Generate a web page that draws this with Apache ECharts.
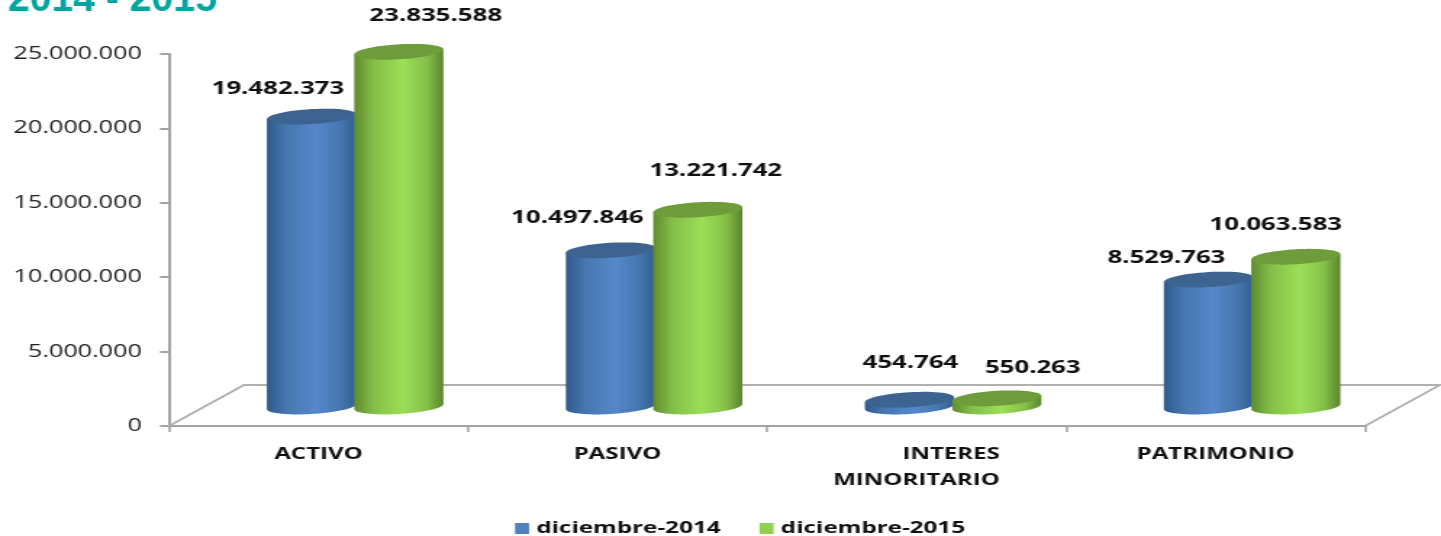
<!DOCTYPE html>
<html>
<head>
<meta charset="utf-8">
<script src="https://cdn.jsdelivr.net/npm/echarts@6/dist/echarts.min.js"></script>
<style>
html,body{margin:0;padding:0;background:#fff;overflow:hidden;width:1441px;height:536px}
#c{position:absolute;left:0;top:0;width:994px;height:536px;transform-origin:0 0;transform:scaleX(1.4497)}
</style>
</head>
<body>
<div id="c"></div>
<script>
// data
const categories = ['ACTIVO', 'PASIVO', 'INTERES\nMINORITARIO', 'PATRIMONIO'];
const seriesNames = ['diciembre-2014', 'diciembre-2015'];
const values2014 = [19482373, 10497846, 454764, 8529763];
const values2015 = [23835588, 13221742, 550263, 10063583];
const titleText = '2014 - 2015';

// layout (the picture is stretched horizontally by K)
const K = 1441 / 994;
const X = p => p / K;
const DEPTH_X = X(75), DEPTH_Y = 41, BASE_LIFT = 19.5, RY = 7.5, TILT = 2.5;
const nudge2014 = [[-33.5, -28], [-33, -32], [1, -37], [-42, -22]];
const nudge2015 = [[37, -36], [18, -39], [36, -30], [-20, -32]];

const dotted = v => String(v).replace(/\B(?=(\d{3})+(?!\d))/g, '.');

function ellipsePts(cx, cy, rx, from, to, n) {
  const pts = [];
  for (let i = 0; i <= n; i++) {
    const t = from + (to - from) * i / n;
    pts.push([cx + rx * Math.cos(t), cy + RY * Math.sin(t) - TILT * Math.cos(t)]);
  }
  return pts;
}

function cylinder(shift, cols, topCol, nudge) {
  return function (params, api) {
    const i = api.value(0), v = api.value(1);
    const band = api.size([1, 0])[0];
    const base = api.coord([i, 0]);
    const top = api.coord([i, v]);
    const cx = base[0] + shift * band;
    const rx = band * 0.149;
    const yb = base[1] - BASE_LIFT, yt = top[1] - BASE_LIFT;
    const body = ellipsePts(cx, yb, rx, 0, Math.PI, 40).concat(
      [[cx - rx, yt + TILT], [cx + rx, yt - TILT]]);
    const n = nudge[i];
    return {
      type: 'group',
      children: [
        { type: 'polygon', shape: { points: body }, style: {
            fill: new echarts.graphic.LinearGradient(0, 0, 1, 0, [
              { offset: 0, color: cols[0] }, { offset: 0.22, color: cols[1] },
              { offset: 0.55, color: cols[2] }, { offset: 0.82, color: cols[1] }, { offset: 1, color: cols[3] }
            ]) } },
        { type: 'polygon', shape: { points: ellipsePts(cx, yt, rx, 0, Math.PI * 2, 60) }, style: { fill: topCol } },
        { type: 'text', style: {
            text: dotted(v), x: cx + X(n[0]), y: yt + n[1], align: 'center', verticalAlign: 'middle',
            fill: '#111', font: 'bold 17.8px "Open Sans"' } }
      ]
    };
  };
}

function floor(params, api) {
  const band = api.size([1, 0])[0];
  const o = api.coord([0, 0]);
  const l = o[0] - band / 2, r = l + band * 4, y = o[1];
  return {
    type: 'polyline',
    shape: { points: [[l, y], [l + DEPTH_X, y - DEPTH_Y], [r + DEPTH_X, y - DEPTH_Y], [r, y]] },
    style: { stroke: '#b0b0b0', lineWidth: 1.8, fill: null },
    silent: true
  };
}

const chart = echarts.init(document.getElementById('c'));
chart.setOption({
  animation: false,
  backgroundColor: '#fff',
  graphic: [{ type: 'text', x: X(8), y: 20, scaleY: 1.45, silent: true,
    style: { text: titleText, verticalAlign: 'bottom', fill: '#00a5a0', font: 'bold 27px "Liberation Sans"' } }],
  legend: { data: seriesNames, left: X(515), top: 520, padding: 0, icon: 'rect', itemWidth: X(14), itemHeight: 11, itemGap: X(39),
    itemStyle: { borderWidth: 0 },
    textStyle: { color: '#111', fontFamily: '"Open Sans"', fontWeight: 'bold', fontSize: 16.7, padding: [0, 0, 0, 0] } },
  grid: { left: X(169), width: X(1196), top: 54, height: 372, containLabel: false },
  xAxis: {
    type: 'category', data: categories,
    axisLine: { lineStyle: { color: '#a3a3a3', width: 2 } },
    axisTick: { show: true, alignWithLabel: false, length: 6, lineStyle: { color: '#a3a3a3', width: 1.6 } },
    axisLabel: { interval: 0, margin: 15, hideOverlap: false,
      formatter: s => s.split('\n').map(t => `{${s.includes('\n') ? 'r' : 'c'}|${t}}`).join('\n'),
      rich: {
        r: { align: 'right', color: '#111', fontFamily: '"Open Sans"', fontWeight: 'bold', fontSize: 16.6, lineHeight: 26 },
        c: { align: 'center', color: '#111', fontFamily: '"Open Sans"', fontWeight: 'bold', fontSize: 16.6, lineHeight: 26 }
      } }
  },
  yAxis: {
    type: 'value', min: 0, max: 25000000, interval: 5000000,
    splitLine: { show: false },
    axisLine: { show: true, lineStyle: { color: '#a3a3a3', width: 2 } },
    axisTick: { show: true, length: X(9), lineStyle: { color: '#a3a3a3', width: 2 } },
    axisLabel: { margin: X(27), color: '#222', fontFamily: '"Open Sans"', fontSize: 17.4, padding: [6, 0, 0, 0], formatter: dotted }
  },
  series: [
    { type: 'custom', name: 'floor', coordinateSystem: 'cartesian2d', data: [[0, 0]], renderItem: floor, silent: true, z: 1, clip: false },
    { type: 'custom', name: seriesNames[0], coordinateSystem: 'cartesian2d', z: 2, clip: false,
      itemStyle: { color: '#4f81bd' }, encode: { x: 0, y: 1 },
      data: values2014.map((v, i) => [i, v]),
      renderItem: cylinder(-0.0237, ['#2f5a8c', '#4777b0', '#5588cc', '#34608f'], '#3d6491', nudge2014) },
    { type: 'custom', name: seriesNames[1], coordinateSystem: 'cartesian2d', z: 3, clip: false,
      itemStyle: { color: '#92d050' }, encode: { x: 0, y: 1 },
      data: values2015.map((v, i) => [i, v]),
      renderItem: cylinder(0.2685, ['#5f8c30', '#85bf48', '#9bdf57', '#5a8430'], '#6f9c3b', nudge2015) }
  ]
});
</script>
</body>
</html>
